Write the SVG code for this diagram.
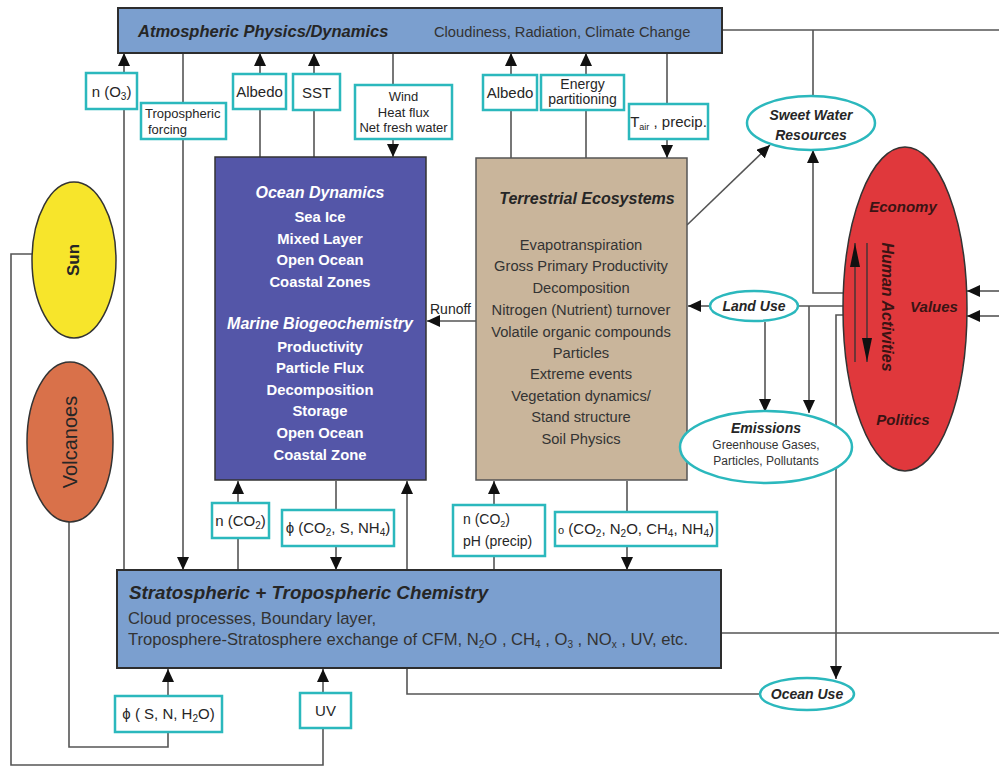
<svg xmlns="http://www.w3.org/2000/svg" width="999" height="767" viewBox="0 0 999 767">
<style>
text{font-family:"Liberation Sans",Arial,sans-serif;fill:#262626}
.bar{fill:#7b9fcf;stroke:#2d2d2d;stroke-width:2}
.lbl{fill:#fff;stroke:#2bb8bd;stroke-width:2.5}
.ell{fill:#fff;stroke:#2bb8bd;stroke-width:2.5}
.c{fill:none;stroke:#555;stroke-width:1.6}
.a{marker-end:url(#ah)}
.bi{font-weight:bold;font-style:italic}
.w{fill:#fff;font-weight:bold;text-anchor:middle}
.t{fill:#333;text-anchor:middle;font-size:14.7px}
.m{text-anchor:middle}
</style>
<defs>
<marker id="ah" markerUnits="userSpaceOnUse" markerWidth="13" markerHeight="12" viewBox="0 0 13 12" refX="13" refY="6" orient="auto"><path d="M0,0 L13,6 L0,12 z" fill="#111"/></marker>
<marker id="ah2" markerUnits="userSpaceOnUse" markerWidth="24" markerHeight="10" viewBox="0 0 24 10" refX="24" refY="5" orient="auto"><path d="M0,0 L24,5 L0,10 z" fill="#111"/></marker>
</defs>

<g id="connectors">
<line class="c a" x1="124" y1="570" x2="124" y2="53"/>
<line class="c a" x1="183" y1="53" x2="183" y2="570"/>
<line class="c a" x1="260" y1="157" x2="260" y2="53"/>
<line class="c a" x1="314" y1="157" x2="314" y2="53"/>
<line class="c a" x1="393" y1="53" x2="393" y2="157"/>
<line class="c a" x1="511" y1="158" x2="511" y2="53"/>
<line class="c a" x1="586" y1="158" x2="586" y2="53"/>
<line class="c a" x1="667" y1="53" x2="667" y2="158"/>
<polyline class="c" points="722,30 999,30"/>
<polyline class="c" points="813,30 813,97"/>
<line class="c a" x1="687" y1="225" x2="770" y2="145"/>
<polyline class="c a" points="843,293 813,293 813,150"/>
<polyline class="c" points="843,306 798,306"/>
<line class="c a" x1="710" y1="306" x2="688" y2="306"/>
<line class="c a" x1="809" y1="306" x2="809" y2="413"/>
<line class="c a" x1="765" y1="322" x2="765" y2="412"/>
<polyline class="c a" points="843,315 836,315 836,679"/>
<line class="c a" x1="999" y1="291" x2="967" y2="291"/>
<line class="c a" x1="999" y1="316" x2="967" y2="316"/>
<line class="c a" x1="476" y1="321" x2="427" y2="321"/>
<line class="c a" x1="238" y1="570" x2="238" y2="481"/>
<line class="c a" x1="336" y1="481" x2="336" y2="570"/>
<line class="c a" x1="407" y1="570" x2="407" y2="481"/>
<line class="c a" x1="494" y1="570" x2="494" y2="481"/>
<line class="c a" x1="627" y1="481" x2="627" y2="570"/>
<polyline class="c" points="720,633 999,633"/>
<polyline class="c" points="407,668 407,694 760,694"/>
<polyline class="c a" points="69,522 69,747 168,747 168,669"/>
<polyline class="c a" points="32,254 11,254 11,765 323,765 323,669"/>
</g>

<g id="atmospheric-physics">
<rect class="bar" x="118" y="8" width="604" height="45"/>
<text x="138" y="37" class="bi" font-size="16.5">Atmospheric Physics/Dynamics</text>
<text x="434" y="37" font-size="14.7" style="fill:#333">Cloudiness, Radiation, Climate Change</text>
</g>

<g id="ocean">
<rect x="215" y="157" width="211" height="323" fill="#5456a8" stroke="#333" stroke-width="1.5"/>
<text class="w" x="320" y="198" font-size="16" font-style="italic">Ocean Dynamics</text>
<text class="w" x="320" y="222" font-size="14.8">Sea Ice</text>
<text class="w" x="320" y="244" font-size="14.8">Mixed Layer</text>
<text class="w" x="320" y="265" font-size="14.8">Open Ocean</text>
<text class="w" x="320" y="287" font-size="14.8">Coastal Zones</text>
<text class="w" x="320" y="329" font-size="16" font-style="italic">Marine Biogeochemistry</text>
<text class="w" x="320" y="352" font-size="14.8">Productivity</text>
<text class="w" x="320" y="373" font-size="14.8">Particle Flux</text>
<text class="w" x="320" y="395" font-size="14.8">Decomposition</text>
<text class="w" x="320" y="416" font-size="14.8">Storage</text>
<text class="w" x="320" y="438" font-size="14.8">Open Ocean</text>
<text class="w" x="320" y="460" font-size="14.8">Coastal Zone</text>
</g>

<g id="terrestrial">
<rect x="476" y="158" width="211" height="322" fill="#c9b59b" stroke="#555" stroke-width="1.5"/>
<text x="587" y="204" class="bi m" font-size="16">Terrestrial Ecosystems</text>
<text class="t" x="581" y="250">Evapotranspiration</text>
<text class="t" x="581" y="271">Gross Primary Productivity</text>
<text class="t" x="581" y="293">Decomposition</text>
<text class="t" x="581" y="315">Nitrogen (Nutrient) turnover</text>
<text class="t" x="581" y="337">Volatile organic compounds</text>
<text class="t" x="581" y="358">Particles</text>
<text class="t" x="581" y="379">Extreme events</text>
<text class="t" x="581" y="401">Vegetation dynamics/</text>
<text class="t" x="581" y="422">Stand structure</text>
<text class="t" x="581" y="444">Soil Physics</text>
</g>

<g id="chemistry">
<rect class="bar" x="117" y="570" width="604" height="98"/>
<text x="129" y="599" class="bi" font-size="18.8">Stratospheric + Tropospheric Chemistry</text>
<text x="128" y="624" font-size="16.6" style="fill:#333">Cloud processes, Boundary layer,</text>
<text x="128" y="645" font-size="16.6" style="fill:#333">Troposphere-Stratosphere exchange of CFM, N<tspan font-size="10" dy="3">2</tspan><tspan dy="-3">O , CH</tspan><tspan font-size="10" dy="3">4</tspan><tspan dy="-3"> , O</tspan><tspan font-size="10" dy="3">3</tspan><tspan dy="-3"> ,  NO</tspan><tspan font-size="10" dy="3">x</tspan><tspan dy="-3"> , UV, etc.</tspan></text>
</g>

<g id="sun">
<ellipse cx="74" cy="260" rx="42" ry="78" fill="#f7e52b" stroke="#333" stroke-width="1.5"/>
<text transform="translate(79,260) rotate(-90)" class="m" font-size="17" font-weight="bold">Sun</text>
</g>

<g id="volcanoes">
<ellipse cx="70" cy="442" rx="43" ry="80" fill="#d9714a" stroke="#333" stroke-width="1.5"/>
<text transform="translate(77,442) rotate(-90)" class="m" font-size="20">Volcanoes</text>
</g>

<g id="human-activities">
<ellipse cx="905" cy="309" rx="62" ry="162" fill="#e0383c" stroke="#333" stroke-width="1.5"/>
<text x="903" y="212" class="bi m" font-size="15" style="fill:#3a1414">Economy</text>
<text x="934" y="312" class="bi m" font-size="15" style="fill:#3a1414">Values</text>
<text x="903" y="425" class="bi m" font-size="15" style="fill:#3a1414">Politics</text>
<text transform="translate(882,307) rotate(90)" class="m bi" font-size="16" style="fill:#3a1414">Human Activities</text>
<line x1="855" y1="362" x2="855" y2="243" stroke="#333" stroke-width="1.3" marker-end="url(#ah2)"/>
<line x1="867" y1="243" x2="867" y2="362" stroke="#333" stroke-width="1.3" marker-end="url(#ah2)"/>
</g>

<g id="sweet-water">
<ellipse class="ell" cx="811" cy="123" rx="64" ry="27"/>
<text x="811" y="120" class="bi m" font-size="14">Sweet Water</text>
<text x="811" y="140" class="bi m" font-size="14">Resources</text>
</g>

<g id="land-use">
<ellipse class="ell" cx="754" cy="306" rx="44" ry="15"/>
<text x="754" y="311" class="bi m" font-size="14">Land Use</text>
</g>

<g id="emissions">
<ellipse class="ell" cx="766" cy="447" rx="86" ry="36"/>
<text x="766" y="433" class="bi m" font-size="14">Emissions</text>
<text x="766" y="449" class="m" font-size="12" style="fill:#333">Greenhouse Gases,</text>
<text x="766" y="465" class="m" font-size="12" style="fill:#333">Particles, Pollutants</text>
</g>

<g id="ocean-use">
<ellipse class="ell" cx="807" cy="694" rx="47" ry="16"/>
<text x="807" y="699" class="bi m" font-size="14">Ocean Use</text>
</g>

<g id="label-nO3">
<rect class="lbl" x="86" y="73" width="51" height="36"/>
<text x="111.5" y="97" class="m" font-size="15">n (O<tspan font-size="10" dy="3">3</tspan><tspan dy="-3">)</tspan></text>
</g>
<g id="label-trop-forcing">
<rect class="lbl" x="141" y="103" width="85" height="36"/>
<text x="145" y="118" font-size="13">Tropospheric</text>
<text x="148" y="134" font-size="13">forcing</text>
</g>
<g id="label-albedo-ocean">
<rect class="lbl" x="233" y="74" width="53" height="35"/>
<text x="259.5" y="97" class="m" font-size="15">Albedo</text>
</g>
<g id="label-sst">
<rect class="lbl" x="293" y="74" width="47" height="36"/>
<text x="316.5" y="98" class="m" font-size="15">SST</text>
</g>
<g id="label-wind">
<rect class="lbl" x="355" y="85" width="97" height="54"/>
<text x="403.5" y="101" class="m" font-size="13">Wind</text>
<text x="403.5" y="117" class="m" font-size="13">Heat flux</text>
<text x="403.5" y="132" class="m" font-size="13">Net fresh water</text>
</g>
<g id="label-albedo-terr">
<rect class="lbl" x="483" y="75" width="54" height="35"/>
<text x="510" y="98" class="m" font-size="15">Albedo</text>
</g>
<g id="label-energy">
<rect class="lbl" x="541" y="75" width="83" height="35"/>
<text x="582.5" y="89" class="m" font-size="14">Energy</text>
<text x="582.5" y="104" class="m" font-size="14">partitioning</text>
</g>
<g id="label-tair">
<rect class="lbl" x="629" y="104" width="79" height="35"/>
<text x="668.5" y="127" class="m" font-size="15">T<tspan font-size="9" dy="3">air</tspan><tspan dy="-3"> , precip.</tspan></text>
</g>
<g id="label-nCO2-ocean">
<rect class="lbl" x="212" y="503" width="57" height="35"/>
<text x="240.5" y="526" class="m" font-size="15">n (CO<tspan font-size="10" dy="3">2</tspan><tspan dy="-3">)</tspan></text>
</g>
<g id="label-phi-ocean">
<rect class="lbl" x="282" y="510" width="112" height="36"/>
<text x="338" y="533" class="m" font-size="15">ϕ (CO<tspan font-size="10" dy="3">2</tspan><tspan dy="-3">, S, NH</tspan><tspan font-size="10" dy="3">4</tspan><tspan dy="-3">)</tspan></text>
</g>
<g id="label-nCO2-terr">
<rect class="lbl" x="453" y="505" width="92" height="51"/>
<text x="463" y="524" font-size="14">n (CO<tspan font-size="9" dy="3">2</tspan><tspan dy="-3">)</tspan></text>
<text x="463" y="546" font-size="14">pH (precip)</text>
</g>
<g id="label-o-terr">
<rect class="lbl" x="555" y="512" width="162" height="34"/>
<text x="636" y="534" class="m" font-size="15"><tspan font-size="11">o</tspan> (CO<tspan font-size="10" dy="3">2</tspan><tspan dy="-3">, N</tspan><tspan font-size="10" dy="3">2</tspan><tspan dy="-3">O, CH</tspan><tspan font-size="10" dy="3">4</tspan><tspan dy="-3">, NH</tspan><tspan font-size="10" dy="3">4</tspan><tspan dy="-3">)</tspan></text>
</g>
<g id="label-phi-volc">
<rect class="lbl" x="115" y="696" width="107" height="36"/>
<text x="168.5" y="719" class="m" font-size="15">ϕ ( S, N, H<tspan font-size="10" dy="3">2</tspan><tspan dy="-3">O)</tspan></text>
</g>
<g id="label-uv">
<rect class="lbl" x="300" y="693" width="51" height="35"/>
<text x="325.5" y="716" class="m" font-size="15">UV</text>
</g>
<g id="label-runoff">
<text x="430" y="314" font-size="14">Runoff</text>
</g>
</svg>
